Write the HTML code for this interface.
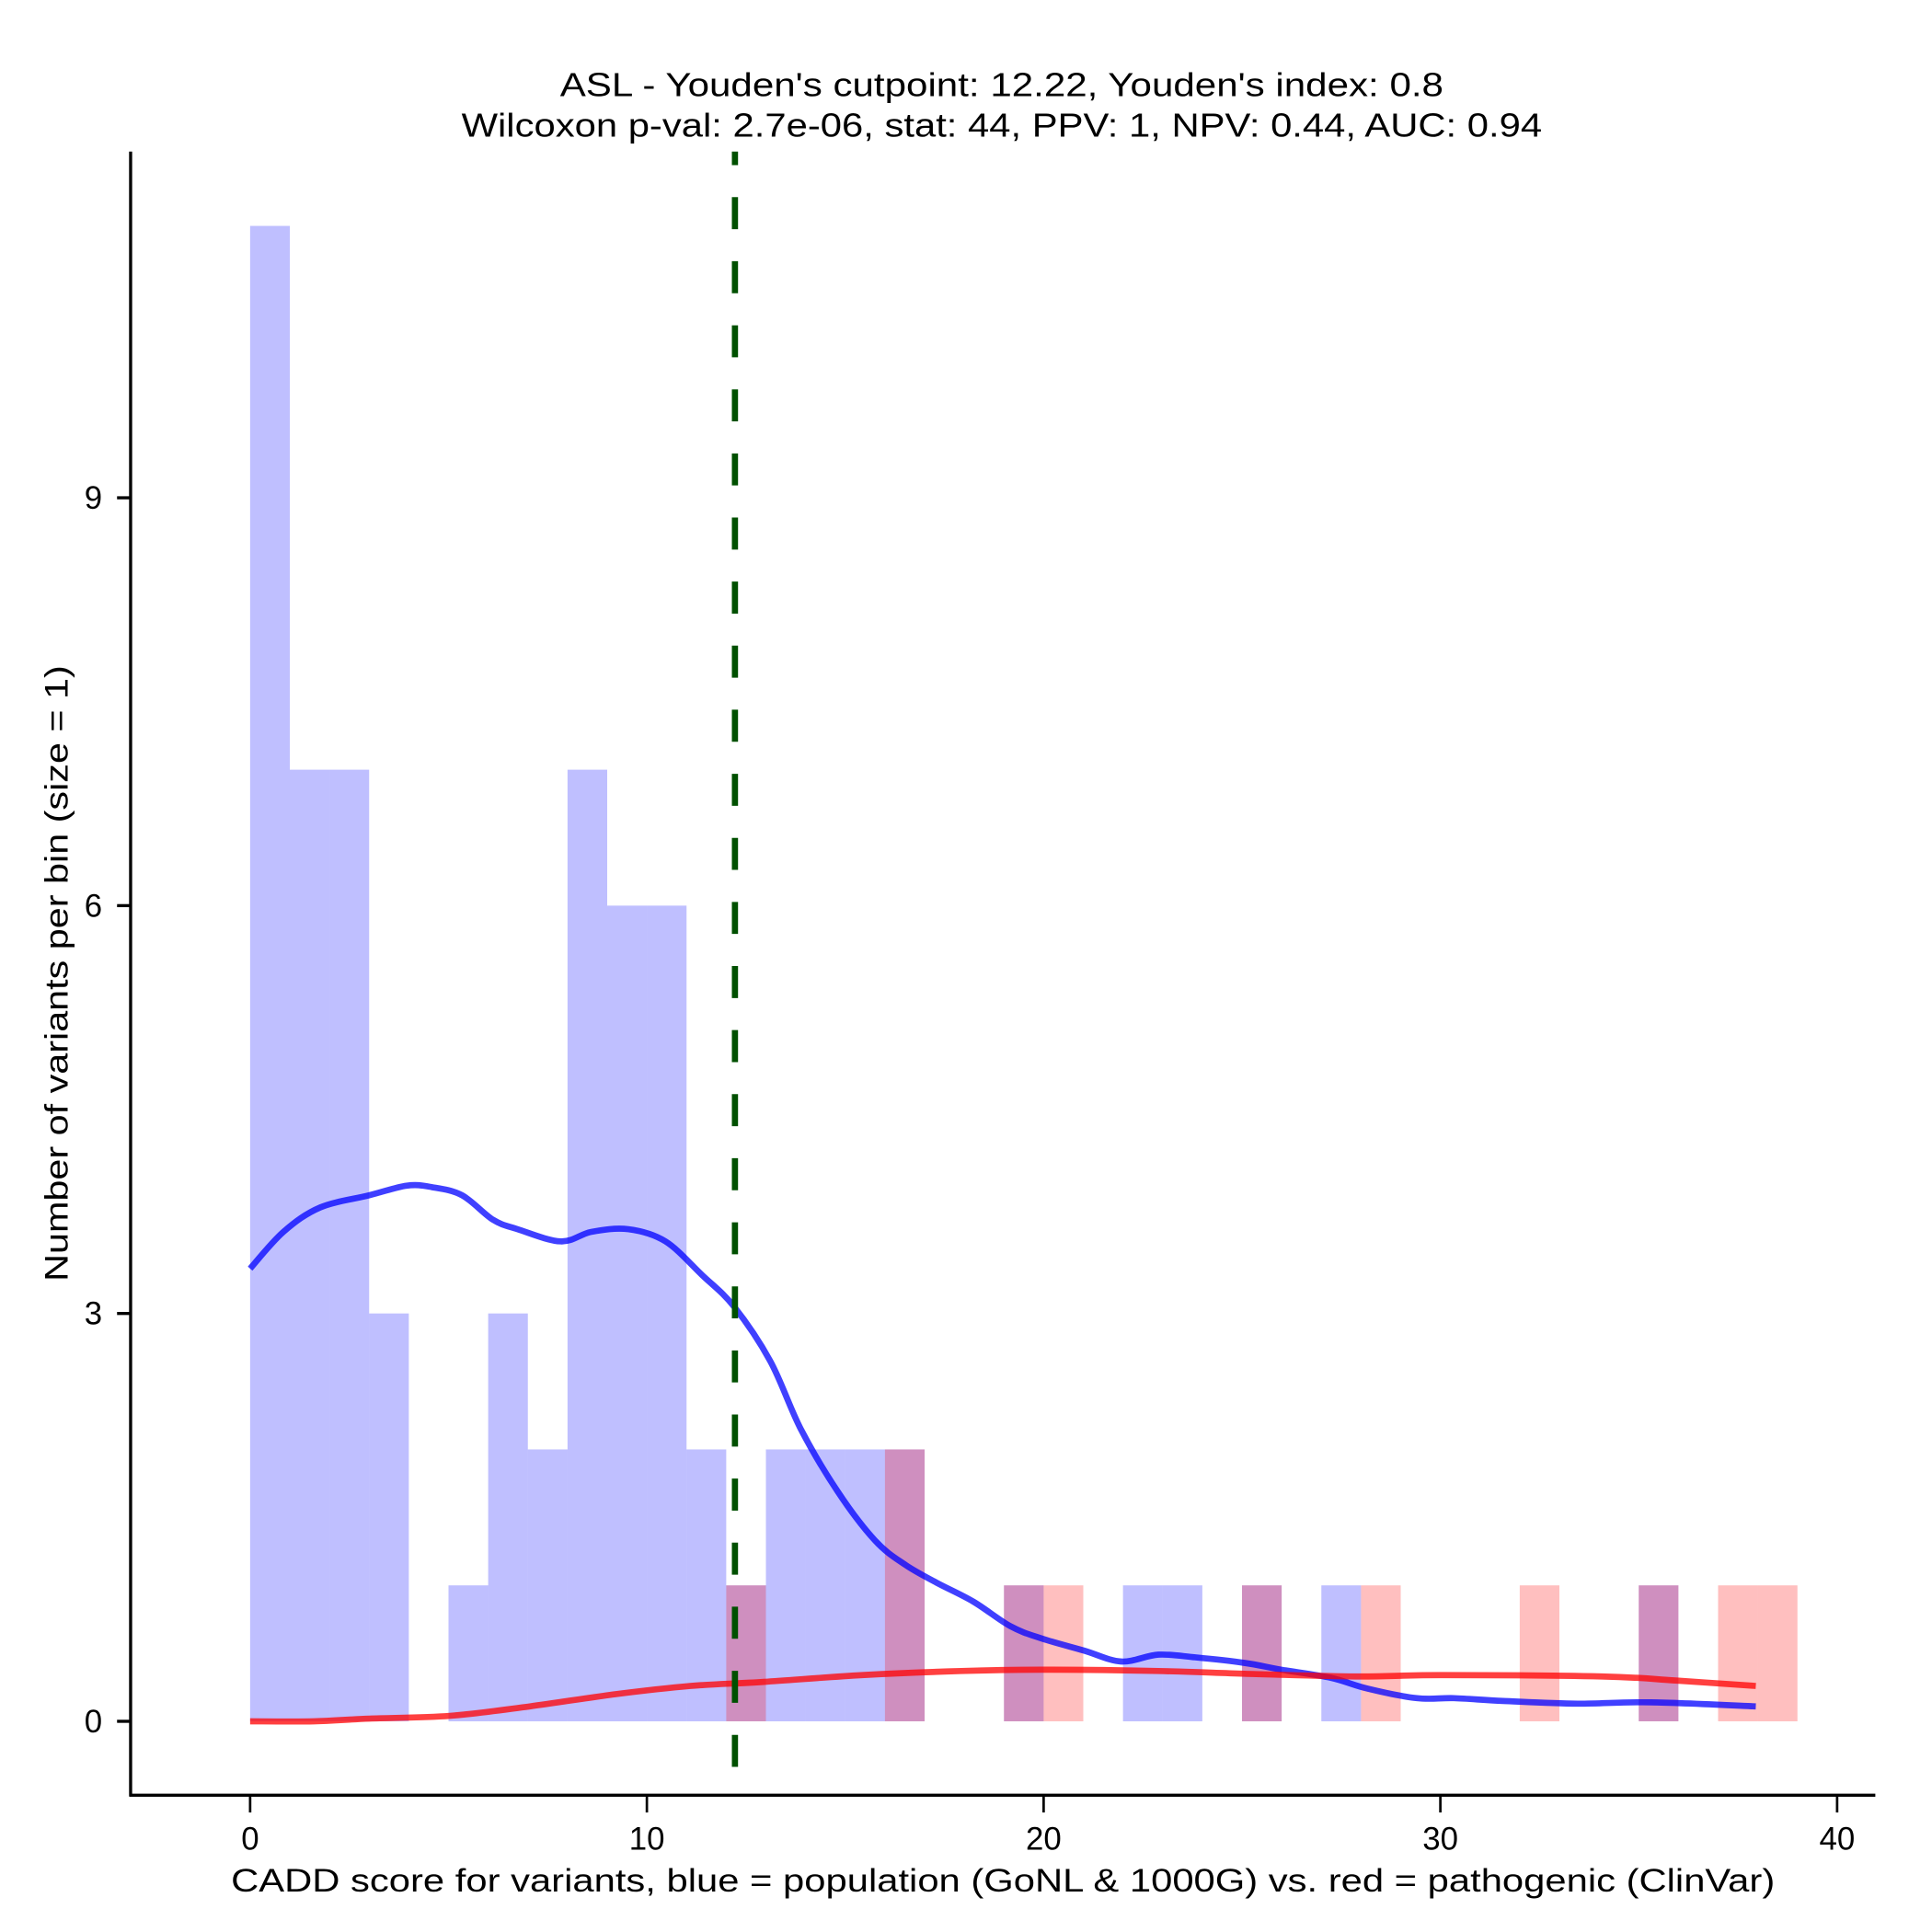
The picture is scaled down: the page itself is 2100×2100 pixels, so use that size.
<!DOCTYPE html>
<html><head><meta charset="utf-8"><style>
html,body{margin:0;padding:0;background:#fff;}
svg{display:block;font-family:"Liberation Sans",Arial,sans-serif;}
</style></head><body>
<svg id="chart" width="2100" height="2100" viewBox="0 0 1568 1568" xmlns="http://www.w3.org/2000/svg">
<rect width="1568" height="1568" fill="#fff"/>
<g id="bars"></g>
<g id="curves"></g>
<line id="cut" y1="123" y2="1457" stroke="#005000" stroke-width="5" stroke-dasharray="26 26" stroke-dashoffset="15"/>
<line x1="106" y1="123" x2="106" y2="1458" stroke="#000" stroke-width="2.5"/>
<line x1="105" y1="1457" x2="1522" y2="1457" stroke="#000" stroke-width="2.5"/>
<g id="xticks"></g>
<g id="yticks"></g>
<text x="813" y="78" text-anchor="middle" font-size="27" textLength="717" lengthAdjust="spacingAndGlyphs">ASL - Youden's cutpoint: 12.22, Youden's index: 0.8</text>
<text x="813" y="111" text-anchor="middle" font-size="27" textLength="877" lengthAdjust="spacingAndGlyphs">Wilcoxon p-val: 2.7e-06, stat: 44, PPV: 1, NPV: 0.44, AUC: 0.94</text>
<text x="814" y="1535" text-anchor="middle" font-size="26" textLength="1253" lengthAdjust="spacingAndGlyphs">CADD score for variants, blue = population (GoNL &amp; 1000G) vs. red = pathogenic (ClinVar)</text>
<text transform="translate(55,790) rotate(-90)" text-anchor="middle" font-size="26" textLength="500" lengthAdjust="spacingAndGlyphs">Number of variants per bin (size = 1)</text>
</svg>
<script>
const blueBins = [0,1,2,3,5,6,7,8,9,10,11,12,13,14,15,16,19,22,23,25,27,35];
const blueCounts = [11,7,7,3,1,3,2,7,6,6,2,1,2,2,2,2,1,1,1,1,1,1];
const redBins = [12,16,19,20,25,28,32,35,37,38];
const redCounts = [1,2,1,1,1,1,1,1,1,1];
const blueCurveX = [0,0.84,1.77,3.01,3.94,4.57,5.34,6.12,6.74,7.83,8.6,9.53,10.47,11.4,12.2,13.11,13.88,14.81,15.75,16.52,17.3,18.23,19.16,19.94,21.02,21.96,22.89,23.82,25.06,25.99,27.24,28.17,29.41,30.34,31.58,33.45,35.31,37.95];
const blueCurveY = [3.33,3.6,3.78,3.87,3.94,3.93,3.87,3.69,3.62,3.53,3.6,3.62,3.53,3.28,3.05,2.65,2.15,1.69,1.33,1.15,1.02,0.88,0.7,0.61,0.52,0.44,0.49,0.47,0.43,0.38,0.32,0.24,0.17,0.17,0.15,0.13,0.14,0.11];
const redCurveX = [0,1.61,3.01,5.03,7.05,9.22,11.09,12.95,15.43,17.92,19.94,22.89,25.06,27.86,30.03,34.07,35.93,37.95];
const redCurveY = [0,0,0.02,0.04,0.11,0.2,0.26,0.29,0.34,0.37,0.38,0.37,0.35,0.33,0.34,0.33,0.3,0.26];
const xTicks = [0,10,20,30,40];
const yTicks = [0,3,6,9];
const cutpoint = 12.22;

const NS = "http://www.w3.org/2000/svg";
const xs = v => 203 + v * 32.2;
const ys = v => 1397 - v * 110.333;
function mk(tag, attrs, parent){const e=document.createElementNS(NS,tag);for(const k in attrs)e.setAttribute(k,attrs[k]);parent.appendChild(e);return e;}

const bars = document.getElementById('bars');
blueBins.forEach((b,i)=>{
  const r = mk('rect',{x:xs(b),y:ys(blueCounts[i]),width:xs(b+1)-xs(b),height:ys(0)-ys(blueCounts[i]),fill:'#0000ff','fill-opacity':0.25},bars);
  
  
});
redBins.forEach((b,i)=>{
  const r = mk('rect',{x:xs(b),y:ys(redCounts[i]),width:xs(b+1)-xs(b),height:ys(0)-ys(redCounts[i]),fill:'#ff0000','fill-opacity':0.25},bars);
  
  
});

const curves = document.getElementById('curves');
function smoothPath(X,Y){
  const P = X.map((x,i)=>[xs(x),ys(Y[i])]);
  let d = 'M'+P[0][0].toFixed(1)+','+P[0][1].toFixed(1);
  for(let i=0;i<P.length-1;i++){
    const p0=P[Math.max(i-1,0)],p1=P[i],p2=P[i+1],p3=P[Math.min(i+2,P.length-1)];
    const c1=[p1[0]+(p2[0]-p0[0])/6,p1[1]+(p2[1]-p0[1])/6];
    const c2=[p2[0]-(p3[0]-p1[0])/6,p2[1]-(p3[1]-p1[1])/6];
    d+=' C'+c1.map(v=>v.toFixed(1)).join(',')+' '+c2.map(v=>v.toFixed(1)).join(',')+' '+p2.map(v=>v.toFixed(1)).join(',');
  }
  return d;
}
function line(X,Y,color,name){
  const p = mk('path',{d:smoothPath(X,Y),fill:'none',stroke:color,'stroke-width':5,'stroke-opacity':0.75,'stroke-linejoin':'round'},curves);
  
  
}
line(blueCurveX,blueCurveY,'#0000ff','blue-density-curve');
line(redCurveX,redCurveY,'#ff0000','red-density-curve');

const cut = document.getElementById('cut');
cut.setAttribute('x1', xs(cutpoint)); cut.setAttribute('x2', xs(cutpoint));

const xt = document.getElementById('xticks');
xTicks.forEach(t=>{
  const l = mk('line',{x1:xs(t),x2:xs(t),y1:1457,y2:1471,stroke:'#000','stroke-width':2},xt);
  
  
  const tx = mk('text',{x:xs(t),y:1501,'text-anchor':'middle','font-size':26},xt);
  tx.textContent = t;
  
  
});
const yt = document.getElementById('yticks');
yTicks.forEach(t=>{
  const l = mk('line',{x1:95,x2:106,y1:ys(t),y2:ys(t),stroke:'#000','stroke-width':2.5},yt);
  
  
  const tx = mk('text',{x:83,y:ys(t)+9,'text-anchor':'end','font-size':26},yt);
  tx.textContent = t;
  
  
});
</script>
</body></html>
